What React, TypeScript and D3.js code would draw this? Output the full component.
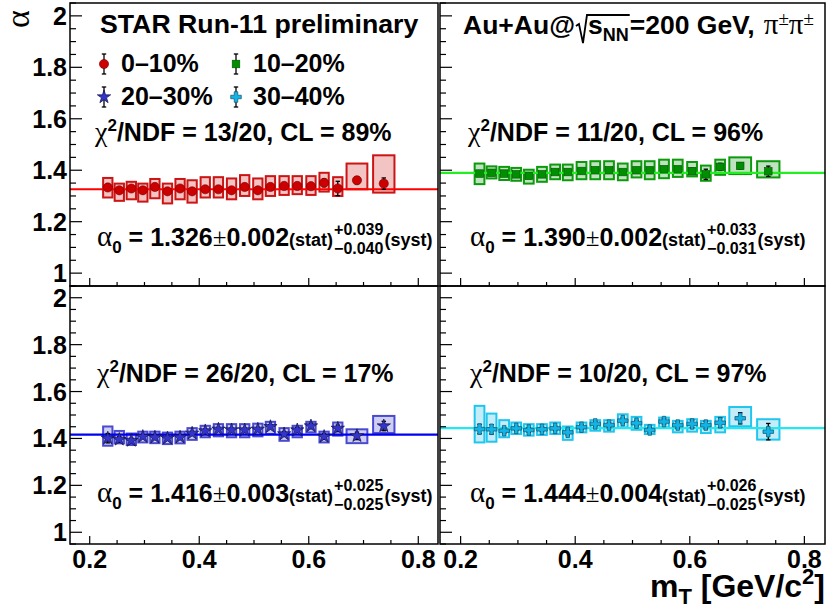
import { useEffect, useRef } from "react";
import * as d3 from "d3";

const W = 830;
const H = 609;
const SANS = "'Liberation Sans', Arial, Helvetica, sans-serif";
const SERIF = "'Liberation Serif', 'DejaVu Serif', serif";

// transverse mass bin centres and systematic box half-widths (GeV/c^2)
const mT = [0.233, 0.254, 0.276, 0.297, 0.319, 0.342, 0.365, 0.387, 0.411, 0.435, 0.459,
  0.483, 0.507, 0.530, 0.555, 0.579, 0.604, 0.628, 0.653, 0.688, 0.737];
const binHalf = [0.0085, 0.0085, 0.0085, 0.0085, 0.0085, 0.0085, 0.0085, 0.0085, 0.0085, 0.0085,
  0.0085, 0.0085, 0.0085, 0.0085, 0.0085, 0.0085, 0.0085, 0.0085, 0.0085, 0.019, 0.0195];

// 0-10%
const redVal = [1.333, 1.322, 1.329, 1.322, 1.335, 1.318, 1.329, 1.318, 1.326, 1.326, 1.322,
  1.335, 1.322, 1.335, 1.339, 1.339, 1.338, 1.351, 1.329, 1.361, 1.348];
const redHi = [1.370, 1.348, 1.355, 1.348, 1.366, 1.348, 1.366, 1.361, 1.373, 1.373, 1.368,
  1.381, 1.368, 1.377, 1.377, 1.377, 1.377, 1.390, 1.373, 1.426, 1.458];
const redLo = [1.294, 1.281, 1.287, 1.278, 1.291, 1.271, 1.287, 1.274, 1.294, 1.294, 1.287,
  1.300, 1.287, 1.300, 1.304, 1.307, 1.304, 1.317, 1.300, 1.326, 1.313];
const redStat = [0.006, 0.006, 0.006, 0.006, 0.006, 0.006, 0.006, 0.006, 0.006, 0.006, 0.006,
  0.007, 0.007, 0.007, 0.008, 0.008, 0.009, 0.015, 0.028, 0.014, 0.022];

// 10-20%
const greenVal = [1.387, 1.390, 1.387, 1.384, 1.378, 1.384, 1.393, 1.393, 1.397, 1.400, 1.400,
  1.393, 1.400, 1.400, 1.404, 1.404, 1.396, 1.384, 1.413, 1.417, 1.396];
const greenHi = [1.426, 1.415, 1.413, 1.409, 1.402, 1.413, 1.422, 1.422, 1.432, 1.435, 1.435,
  1.426, 1.435, 1.435, 1.441, 1.441, 1.432, 1.418, 1.441, 1.450, 1.435];
const greenLo = [1.346, 1.368, 1.362, 1.359, 1.348, 1.355, 1.365, 1.361, 1.365, 1.365, 1.365,
  1.361, 1.372, 1.365, 1.369, 1.374, 1.376, 1.359, 1.382, 1.385, 1.372];
const greenStat = [0.006, 0.006, 0.006, 0.006, 0.006, 0.006, 0.006, 0.006, 0.006, 0.006, 0.006,
  0.006, 0.006, 0.006, 0.007, 0.008, 0.012, 0.020, 0.014, 0.012, 0.020];

// 20-30%
const blueVal = [1.401, 1.396, 1.391, 1.408, 1.405, 1.401, 1.405, 1.422, 1.432, 1.439, 1.436,
  1.436, 1.439, 1.450, 1.419, 1.436, 1.453, 1.408, 1.443, 1.411, 1.453];
const blueHi = [1.451, 1.432, 1.421, 1.429, 1.429, 1.425, 1.429, 1.444, 1.454, 1.461, 1.461,
  1.461, 1.463, 1.471, 1.444, 1.454, 1.471, 1.429, 1.468, 1.439, 1.496];
const blueLo = [1.369, 1.379, 1.372, 1.383, 1.380, 1.376, 1.379, 1.394, 1.405, 1.409, 1.405,
  1.405, 1.409, 1.419, 1.390, 1.405, 1.426, 1.383, 1.412, 1.380, 1.423];
const blueStat = [0.020, 0.012, 0.010, 0.008, 0.008, 0.008, 0.008, 0.008, 0.008, 0.008, 0.008,
  0.008, 0.008, 0.009, 0.010, 0.010, 0.011, 0.012, 0.014, 0.016, 0.020];

// 30-40%
const cyanVal = [1.440, 1.439, 1.433, 1.443, 1.436, 1.439, 1.443, 1.426, 1.448, 1.462, 1.457,
  1.476, 1.465, 1.436, 1.472, 1.457, 1.462, 1.457, 1.467, 1.486, 1.429];
const cyanHi = [1.539, 1.506, 1.478, 1.468, 1.461, 1.461, 1.468, 1.451, 1.468, 1.478, 1.478,
  1.503, 1.492, 1.458, 1.489, 1.475, 1.482, 1.475, 1.492, 1.534, 1.482];
const cyanLo = [1.383, 1.386, 1.405, 1.419, 1.412, 1.415, 1.419, 1.394, 1.426, 1.433, 1.429,
  1.447, 1.437, 1.419, 1.447, 1.426, 1.429, 1.423, 1.426, 1.452, 1.395];
const cyanStat = [0.020, 0.020, 0.012, 0.010, 0.010, 0.010, 0.010, 0.012, 0.010, 0.010, 0.010,
  0.012, 0.012, 0.012, 0.012, 0.014, 0.016, 0.016, 0.020, 0.024, 0.035];

const fitValues = [1.326, 1.390, 1.416, 1.444];
const chiLabels = ["13/20, CL = 89%", "11/20, CL = 96%", "26/20, CL = 17%", "10/20, CL = 97%"];
const alphaCentral = ["1.326", "1.390", "1.416", "1.444"];
const alphaStat = ["0.002", "0.002", "0.003", "0.004"];
const alphaSystUp = ["+0.039", "+0.033", "+0.025", "+0.026"];
const alphaSystDown = ["\u22120.040", "\u22120.031", "\u22120.025", "\u22120.025"];
const legendLabels = ["0\u201310%", "10\u201320%", "20\u201330%", "30\u201340%"];

const yTicks = [1, 1.2, 1.4, 1.6, 1.8, 2];
const yTickLabels = ["1", "1.2", "1.4", "1.6", "1.8", "2"];
const xTicks = [0.2, 0.4, 0.6, 0.8];
const xTickLabels = ["0.2", "0.4", "0.6", "0.8"];

const xDomain = [0.164, 0.836];
const yDomain = [0.95, 2.05];

type Shape = "circle" | "square" | "star" | "cross";
const looks = [
  { fill: "#f2c4c4", stroke: "#cc1414", marker: "#cc0000", fit: "#ff0000", shape: "circle" as Shape },
  { fill: "#bfe3bf", stroke: "#0c9a0c", marker: "#008f00", fit: "#22ee22", shape: "square" as Shape },
  { fill: "#cfcff3", stroke: "#4a4ad0", marker: "#3434cc", fit: "#0000f0", shape: "star" as Shape },
  { fill: "#c4edf9", stroke: "#20c6ee", marker: "#10b4e6", fit: "#22e8f0", shape: "cross" as Shape },
];

const panels = [
  { x0: 70, x1: 438, y0: 3, y1: 286, val: redVal, hi: redHi, lo: redLo, stat: redStat, yLab: true, xLab: false, chi: [95, 141], a0: [97, 246] },
  { x0: 440, x1: 825, y0: 3, y1: 286, val: greenVal, hi: greenHi, lo: greenLo, stat: greenStat, yLab: false, xLab: false, chi: [468, 141], a0: [470, 246] },
  { x0: 70, x1: 438, y0: 286, y1: 544, val: blueVal, hi: blueHi, lo: blueLo, stat: blueStat, yLab: true, xLab: true, chi: [97, 382], a0: [97, 502] },
  { x0: 440, x1: 825, y0: 286, y1: 544, val: cyanVal, hi: cyanHi, lo: cyanLo, stat: cyanStat, yLab: false, xLab: true, chi: [470, 382], a0: [470, 502] },
];

type Sel = d3.Selection<SVGGElement, unknown, null, undefined>;

function marker(g: Sel, shape: Shape, cx: number, cy: number, color: string) {
  const edge = d3.color(color)!.darker(1.6).formatHex();
  if (shape === "circle") {
    g.append("circle").attr("cx", cx).attr("cy", cy).attr("r", 4.6)
      .attr("fill", color).attr("stroke", edge).attr("stroke-width", 0.6);
  } else if (shape === "square") {
    g.append("rect").attr("x", cx - 3.8).attr("y", cy - 3.8).attr("width", 7.6).attr("height", 7.6)
      .attr("fill", color).attr("stroke", edge).attr("stroke-width", 0.6);
  } else {
    const sym = shape === "star" ? d3.symbol(d3.symbolStar, 55) : d3.symbol(d3.symbolCross, 62);
    g.append("path").attr("d", sym()).attr("transform", `translate(${cx},${cy})`)
      .attr("fill", color).attr("stroke", shape === "star" ? "#101040" : "#16506a").attr("stroke-width", 0.7);
  }
}

function errBar(g: Sel, cx: number, yTop: number, yBot: number) {
  g.append("line").attr("x1", cx).attr("x2", cx).attr("y1", yTop).attr("y2", yBot)
    .attr("stroke", "#000").attr("stroke-width", 1.3);
  [yTop, yBot].forEach(yy => g.append("line").attr("x1", cx - 2.2).attr("x2", cx + 2.2)
    .attr("y1", yy).attr("y2", yy).attr("stroke", "#000").attr("stroke-width", 1.3));
}

export default function App() {
  const svgRef = useRef<SVGSVGElement>(null);

  useEffect(() => {
    if (!svgRef.current) return;
    const svg = d3.select(svgRef.current);
    svg.selectAll("*").remove();
    svg.append("rect").attr("width", W).attr("height", H).attr("fill", "#fff");
    const root = svg.append("g") as unknown as Sel;

    panels.forEach((p, k) => {
      const look = looks[k];
      const x = d3.scaleLinear().domain(xDomain).range([p.x0, p.x1]);
      const y = d3.scaleLinear().domain(yDomain).range([p.y1, p.y0]);
      const g = root.append("g");

      // systematic boxes
      g.selectAll("rect.sys").data(mT).join("rect").attr("class", "sys")
        .attr("x", (d, i) => x(d - binHalf[i]))
        .attr("width", (d, i) => x(d + binHalf[i]) - x(d - binHalf[i]))
        .attr("y", (_, i) => y(p.hi[i]))
        .attr("height", (_, i) => y(p.lo[i]) - y(p.hi[i]))
        .attr("fill", look.fill).attr("stroke", look.stroke).attr("stroke-width", 2);

      // constant fit
      g.append("line").attr("x1", p.x0).attr("x2", p.x1)
        .attr("y1", y(fitValues[k])).attr("y2", y(fitValues[k]))
        .attr("stroke", look.fit).attr("stroke-width", 2.2);

      // stat errors + markers
      mT.forEach((d, i) => {
        errBar(g, x(d), y(p.val[i] + p.stat[i]), y(p.val[i] - p.stat[i]));
      });
      mT.forEach((d, i) => marker(g, look.shape, x(d), y(p.val[i]), look.marker));

      // frame
      g.append("rect").attr("x", p.x0).attr("y", p.y0).attr("width", p.x1 - p.x0).attr("height", p.y1 - p.y0)
        .attr("fill", "none").attr("stroke", "#000").attr("stroke-width", 1.5);

      // y ticks
      const yMinor = d3.range(19, 42).map(v => v * 0.05);
      yMinor.forEach(v => {
        const major = yTicks.some(t => Math.abs(t - v) < 1e-6);
        g.append("line").attr("x1", p.x0).attr("x2", p.x0 + (major ? 12 : 6))
          .attr("y1", y(v)).attr("y2", y(v)).attr("stroke", "#000").attr("stroke-width", 1.2);
      });
      if (p.yLab) {
        yTicks.forEach((t, i) => g.append("text").attr("x", p.x0 - 3).attr("y", y(t)).attr("dy", "0.36em")
          .attr("text-anchor", "end").attr("font-family", SANS).attr("font-weight", "bold")
          .attr("font-size", 25).text(yTickLabels[i]));
      }

      // x ticks
      const xMinor = d3.range(4, 17).map(v => v * 0.05);
      xMinor.forEach(v => {
        const major = xTicks.some(t => Math.abs(t - v) < 1e-6);
        g.append("line").attr("x1", x(v)).attr("x2", x(v))
          .attr("y1", p.y1).attr("y2", p.y1 - (major ? 8 : 4)).attr("stroke", "#000").attr("stroke-width", 1.2);
      });
      if (p.xLab) {
        xTicks.forEach((t, i) => g.append("text").attr("x", x(t)).attr("y", 568)
          .attr("text-anchor", "middle").attr("font-family", SANS).attr("font-weight", "bold")
          .attr("font-size", 25).text(xTickLabels[i]));
      }

      // chi2 text
      const c = g.append("text").attr("x", p.chi[0]).attr("y", p.chi[1])
        .attr("font-family", SANS).attr("font-weight", "bold").attr("font-size", 25);
      c.append("tspan").attr("font-family", SERIF).attr("font-weight", "normal").attr("font-size", 28).text("\u03c7");
      c.append("tspan").attr("font-size", 17).attr("dy", -10).text("2");
      c.append("tspan").attr("dy", 10).text("/NDF = " + chiLabels[k]);

      // alpha0 text
      const [ax, ay] = p.a0;
      const a = g.append("text").attr("x", ax).attr("y", ay)
        .attr("font-family", SANS).attr("font-weight", "bold").attr("font-size", 25);
      a.append("tspan").attr("font-family", SERIF).attr("font-weight", "normal").attr("font-size", 29).text("\u03b1");
      a.append("tspan").attr("font-size", 17).attr("dy", 7).text("0");
      a.append("tspan").attr("dy", -7).text(" = " + alphaCentral[k]);
      a.append("tspan").attr("font-family", SERIF).attr("font-weight", "normal").text("\u00b1");
      a.append("tspan").text(alphaStat[k]);
      a.append("tspan").attr("font-size", 18).text("(stat)");
      const aw = (a.node() as SVGTextElement).getComputedTextLength();
      const sx = ax + aw + 1;
      const up = g.append("text").attr("x", sx).attr("y", ay - 11).attr("font-family", SANS)
        .attr("font-weight", "bold").attr("font-size", 16).text(alphaSystUp[k]);
      const dn = g.append("text").attr("x", sx).attr("y", ay + 8).attr("font-family", SANS)
        .attr("font-weight", "bold").attr("font-size", 16).text(alphaSystDown[k]);
      const sw = Math.max((up.node() as SVGTextElement).getComputedTextLength(),
        (dn.node() as SVGTextElement).getComputedTextLength());
      g.append("text").attr("x", sx + sw + 1).attr("y", ay).attr("font-family", SANS)
        .attr("font-weight", "bold").attr("font-size", 18).text("(syst)");
    });

    // STAR label
    root.append("text").attr("x", 100).attr("y", 33).attr("font-family", SANS)
      .attr("font-weight", "bold").attr("font-size", 26.7).text("STAR Run-11 preliminary");

    // legend
    const legX = [104, 236];
    const legY = [64, 97];
    legendLabels.forEach((lab, i) => {
      const lx = legX[i % 2];
      const ly = legY[Math.floor(i / 2)];
      errBar(root, lx, ly - 10, ly + 10);
      marker(root, looks[i].shape, lx, ly, looks[i].marker);
      root.append("text").attr("x", lx + 17).attr("y", ly + 8).attr("font-family", SANS)
        .attr("font-weight", "bold").attr("font-size", 25).text(lab);
    });

    // collision system title
    const tx = 463, ty = 34, fs = 26.5;
    const t1 = root.append("text").attr("x", tx).attr("y", ty).attr("font-family", SANS)
      .attr("font-weight", "bold").attr("font-size", fs).text("Au+Au@");
    const rx = tx + (t1.node() as SVGTextElement).getComputedTextLength() + 1;
    const t2 = root.append("text").attr("x", rx + 12).attr("y", ty).attr("font-family", SANS)
      .attr("font-weight", "bold").attr("font-size", fs);
    t2.append("tspan").text("s");
    t2.append("tspan").attr("font-size", 18).attr("dy", 7).text("NN");
    const end2 = rx + 12 + (t2.node() as SVGTextElement).getComputedTextLength();
    root.append("path")
      .attr("d", `M${rx},${ty - 8} L${rx + 3},${ty - 10} L${rx + 7},${ty + 9} L${rx + 11},${ty - 19} L${end2 + 1},${ty - 19}`)
      .attr("fill", "none").attr("stroke", "#000").attr("stroke-width", 1.8);
    const t3 = root.append("text").attr("x", end2 + 1).attr("y", ty).attr("font-family", SANS)
      .attr("font-weight", "bold").attr("font-size", fs).text("=200 GeV,");
    const end3 = end2 + 1 + (t3.node() as SVGTextElement).getComputedTextLength();
    const t4 = root.append("text").attr("x", end3 + 9).attr("y", ty).attr("font-family", SERIF)
      .attr("font-size", 29);
    t4.append("tspan").text("\u03c0");
    t4.append("tspan").attr("font-size", 19).attr("dy", -9).text("\u00b1");
    t4.append("tspan").attr("dy", 9).text("\u03c0");
    t4.append("tspan").attr("font-size", 19).attr("dy", -9).text("\u00b1");

    // axis titles
    const xt = root.append("text").attr("x", 825).attr("y", 597).attr("text-anchor", "end")
      .attr("font-family", SANS).attr("font-weight", "bold").attr("font-size", 32);
    xt.append("tspan").text("m");
    xt.append("tspan").attr("font-size", 22).attr("dy", 7).text("T");
    xt.append("tspan").attr("dy", -7).text(" [GeV/c");
    xt.append("tspan").attr("font-size", 22).attr("dy", -13).text("2");
    xt.append("tspan").attr("dy", 13).text("]");

    root.append("text").attr("transform", "translate(18,19) rotate(-90)")
      .attr("text-anchor", "middle").attr("dy", "0.32em").attr("font-family", SERIF)
      .attr("font-size", 34).text("\u03b1");
  }, []);

  return <svg ref={svgRef} width={W} height={H} style={{ position: "absolute", left: 0, top: 0 }} />;
}
